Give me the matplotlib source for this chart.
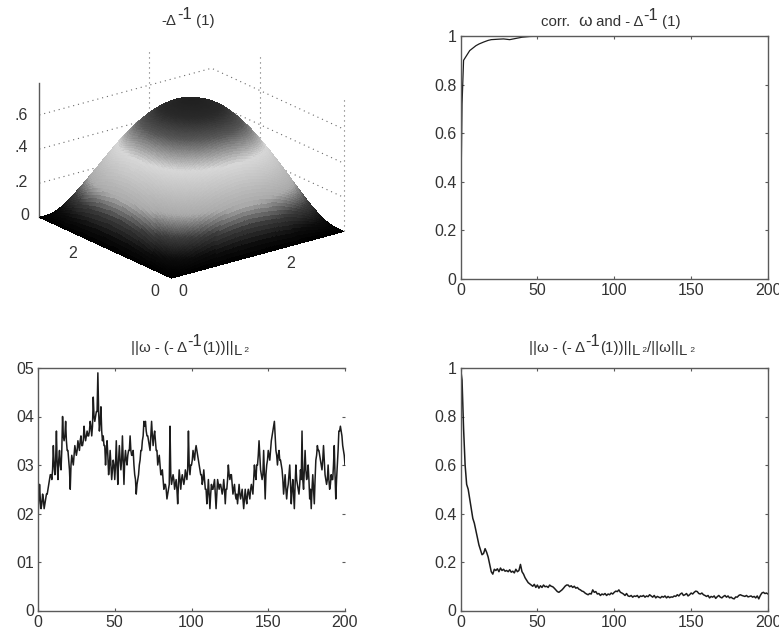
import numpy as np
import matplotlib
matplotlib.use('Agg')
import matplotlib.pyplot as plt
from matplotlib.colors import LinearSegmentedColormap, Normalize

plt.rcParams['font.family'] = ['Liberation Sans', 'DejaVu Sans']

W, H = 779, 638
TEXT = '#333333'
EDGE = '#5a5a5a'

# midline profile of the surface up to its peak, read from the silhouette
profile_half = [0, .025, .049, .073, .097, .120, .143, .166, .188, .210, .231, .252, .272, .291, .310, .328,
                .346, .363, .379, .395, .410, .425, .440, .454, .468, .481, .494, .507, .519, .531, .543, .555,
                .566, .576, .586, .596, .605, .614, .622, .630, .638, .646, .653, .660, .666, .672, .677, .682,
                .687, .692, .696, .700, .704, .707, .710, .713, .716, .718, .720, .722, .724, .725, .726, .7265, .727]
# grey level of the surface against height
shade_z = [0, .06, .154, .26, .37, .46, .53, .60, .68, .74]
shade_grey = [0, 12, 60, 170, 195, 215, 150, 85, 42, 30]

corr_x = [0, 1, 2, 3, 4, 5, 6, 8, 10, 12, 15, 18, 20, 25, 28, 32, 36, 40, 45, 50, 60, 80, 100, 150, 200]
corr_y = [.2, .72, .9, .91, .92, .93, .94, .95, .96, .967, .975, .982, .985, .987, .988, .985, .99, .995,
          .998, .999, 1, 1, .999, 1, 1]

# all in thousandths; err_abs at whole steps, err_abs_mid halfway between them
err_abs = [20, 26, 21, 24, 21, 23, 24, 26, 28, 27,
           34, 28, 37, 27, 33, 29, 40, 35, 39, 33,
           31, 25, 32, 30, 34, 32, 35, 33, 36, 34,
           38, 35, 37, 36, 39, 36, 44, 39, 41, 49,
           37, 42, 35, 34, 30, 35, 28, 33, 27, 31,
           27, 35, 26, 34, 29, 36, 26, 33, 30, 33,
           36, 32, 33, 28, 24, 27, 30, 33, 35, 39,
           39, 36, 35, 33, 39, 34, 37, 33, 30, 32,
           28, 29, 25, 26, 23, 25, 38, 26, 28, 25,
           27, 22, 29, 25, 28, 26, 29, 27, 37, 28,
           30, 33, 31, 34, 32, 30, 28, 26, 29, 25,
           22, 27, 21, 26, 25, 27, 21, 27, 25, 26,
           24, 27, 22, 25, 30, 27, 28, 24, 26, 23,
           22, 26, 23, 25, 21, 25, 22, 25, 23, 26,
           24, 30, 27, 30, 35, 29, 27, 33, 23, 30,
           33, 31, 35, 37, 39, 33, 30, 33, 31, 29,
           24, 28, 23, 26, 30, 22, 27, 21, 30, 26,
           24, 29, 37, 25, 33, 27, 30, 23, 21, 28,
           22, 31, 34, 33, 31, 29, 34, 28, 26, 30,
           25, 28, 27, 34, 23, 30, 37, 38, 36, 33,
           30]
err_abs_mid = [22, 23, 22, 23, 22, 24, 25, 27, 28, 29,
               30, 31, 30, 31, 30, 33, 36, 36, 35, 33,
               29, 30, 31, 32, 33, 33, 34, 35, 34, 35,
               36, 36, 36, 37, 38, 38, 40, 40, 41, 41,
               39, 37, 36, 34, 33, 32, 30, 30, 29, 30,
               30, 30, 31, 31, 31, 31, 31, 31, 32, 33,
               33, 32, 30, 27, 26, 28, 31, 33, 36, 38,
               37, 36, 34, 36, 36, 36, 35, 33, 31, 30,
               28, 27, 26, 25, 24, 26, 28, 27, 27, 26,
               25, 26, 27, 27, 27, 27, 28, 29, 30, 30,
               31, 32, 33, 33, 31, 29, 28, 27, 27, 25,
               24, 24, 24, 25, 26, 24, 24, 26, 26, 25,
               25, 25, 25, 27, 28, 28, 26, 25, 24, 24,
               24, 24, 24, 23, 23, 23, 24, 24, 25, 25,
               27, 28, 30, 32, 32, 28, 28, 28, 28, 31,
               32, 33, 36, 38, 36, 32, 32, 31, 30, 27,
               26, 25, 25, 28, 26, 25, 24, 26, 27, 25,
               26, 27, 27, 29, 29, 28, 27, 25, 25, 25,
               27, 32, 33, 32, 30, 31, 31, 27, 27, 27,
               26, 27, 30, 28, 27, 33, 37, 37, 34, 32]
err_rel = [1000, 950, 750, 600, 520, 500, 460, 420, 380, 360,
           330, 300, 270, 250, 230, 235, 255, 240, 220, 190,
           160, 150, 170, 165, 172, 160, 175, 165, 170, 162,
           165, 160, 168, 158, 162, 155, 170, 160, 165, 190,
           160, 150, 135, 125, 115, 110, 105, 100, 108, 95,
           105, 92, 102, 95, 105, 98, 100, 95, 105, 100,
           98, 92, 85, 78, 75, 80, 85, 92, 100, 105,
           105, 98, 102, 95, 100, 92, 95, 88, 85, 80,
           78, 72, 68, 65, 70, 68, 85, 75, 78, 68,
           70, 62, 68, 65, 70, 62, 68, 65, 72, 68,
           75, 80, 78, 85, 75, 72, 68, 62, 70, 60,
           58, 62, 55, 60, 58, 62, 53, 60, 58, 62,
           55, 60, 57, 65, 60, 55, 62, 52, 58, 55,
           52, 58, 55, 60, 52, 58, 53, 56, 55, 60,
           58, 65, 60, 68, 72, 62, 65, 70, 60, 65,
           72, 68, 75, 80, 78, 70, 68, 72, 65, 62,
           58, 62, 52, 58, 55, 60, 50, 57, 62, 55,
           52, 58, 62, 55, 60, 52, 55, 50, 48, 56,
           55, 62, 65, 62, 60, 58, 62, 56, 58, 60,
           55, 58, 52, 60, 48, 62, 72, 75, 70, 72,
           68]

x_ticks = [0, 50, 100, 150, 200]
frac_ticks = [0, .2, .4, .6, .8, 1]
frac_labels = ['0', '0.2', '0.4', '0.6', '0.8', '1']
abs_ticks = [0, .01, .02, .03, .04, .05]
abs_labels = ['0', '01', '02', '03', '04', '05']
z_ticks = [0, .2, .4, .6]


def px_axes(fig, left, top, right, bottom, **kw):
    return fig.add_axes([left / W, 1 - bottom / H, (right - left) / W, (bottom - top) / H], **kw)


def put_label(fig, x, y, s, size=11.5, ha='center'):
    fig.text(x / W, 1 - y / H, s, fontsize=size, color=TEXT, ha=ha, va='center')


def put_title(fig, cx, y, parts):
    # pieces of differing size on one baseline, centred on cx
    rend = fig.canvas.get_renderer()
    items = []
    total = 0
    for s, size, dy in parts:
        t = fig.text(0, 1 - (y - dy) / H, s, fontsize=size, color=TEXT, ha='left', va='baseline')
        w = t.get_window_extent(rend).width
        items.append((t, w))
        total += w
    x = cx - total / 2
    for t, w in items:
        t.set_x(x / W)
        x += w


def line_panel(fig, box, y, xs, ylim, yticks, ylabels, lw=0.9):
    ax = px_axes(fig, *box)
    ax.plot(xs, y, color='#1c1c1c', lw=lw)
    ax.set_xlim(0, 200)
    ax.set_ylim(*ylim)
    ax.set_xticks(x_ticks)
    ax.set_yticks(yticks)
    ax.set_yticklabels(ylabels)
    ax.tick_params(direction='in', top=True, right=True, length=2.5, width=0.8, color=EDGE,
                   labelsize=11.5, labelcolor=TEXT, pad=3)
    for s in ax.spines.values():
        s.set_color(EDGE)
        s.set_linewidth(1.0)
    return ax


fig = plt.figure(figsize=(W / 100, H / 100), dpi=100, facecolor='white')

# surface panel
profile = np.r_[profile_half, profile_half[-2::-1]]
grid = np.linspace(0, np.pi, len(profile))
xx, yy = np.meshgrid(grid, grid)
zz = np.outer(profile, profile) / profile.max()
zmax = 0.79
cmap = LinearSegmentedColormap.from_list(
    'band', [(z / shade_z[-1], (g / 255, g / 255, g / 255)) for z, g in zip(shade_z, shade_grey)])

S = 400
ax3 = fig.add_axes([(191.5 - .5135 * S) / W, (481 - .5135 * S) / H, S / W, S / H], projection='3d', proj_type='ortho')
ax3.computed_zorder = False
ax3.view_init(elev=20.7, azim=-127.5)
ax3.set_box_aspect((217, 217, 144), zoom=0.823)
ax3.set_xlim(0, np.pi)
ax3.set_ylim(0, np.pi)
ax3.set_zlim(0, zmax)
ax3.set_axis_off()
dots = dict(color='#6a6a6a', lw=0.8, ls=(0, (1, 3.5)), zorder=1)
for z in z_ticks[1:]:
    ax3.plot([0, np.pi, np.pi], [np.pi, np.pi, 0], [z, z, z], **dots)
ax3.plot([2, 2], [np.pi, np.pi], [0, zmax + .02], **dots)
ax3.plot([np.pi, np.pi], [2, 2], [0, zmax + .02], **dots)
ax3.plot([np.pi, np.pi], [0, 0], [0, zmax], **dots)
ax3.plot([0, 0], [np.pi, np.pi], [0, zmax], color=EDGE, lw=1.0, zorder=1)
ax3.plot_surface(xx, yy, zz, cmap=cmap, norm=Normalize(0, shade_z[-1]), rstride=1, cstride=1,
                 linewidth=0, antialiased=False, shade=False, zorder=2)

put_label(fig, 29, 216, '0', ha='right')
put_label(fig, 28, 182, '.2', ha='right')
put_label(fig, 28, 148, '.4', ha='right')
put_label(fig, 28, 115, '.6', ha='right')
put_label(fig, 73, 253, '2')
put_label(fig, 291, 264, '2')
put_label(fig, 155, 292, '0')
put_label(fig, 183, 292, '0')

steps = np.arange(len(err_abs))
half_steps = np.arange(2 * len(err_abs) - 1) / 2
abs_line = np.empty(len(half_steps))
abs_line[::2] = err_abs
abs_line[1::2] = err_abs_mid
ax_corr = line_panel(fig, (460.5, 36, 768, 279), corr_y, corr_x, (0, 1), frac_ticks, frac_labels)
ax_abs = line_panel(fig, (38, 368, 345, 610.5), abs_line / 1000, half_steps, (0, .05), abs_ticks, abs_labels, lw=1.1)
ax_abs.spines['right'].set_visible(False)
ax_rel = line_panel(fig, (460.5, 368, 768, 610.5), np.array(err_rel) / 1000, steps, (0, 1), frac_ticks, frac_labels, lw=1.1)

T = 10.8
SUP = 12
put_title(fig, 188, 25, [('-Δ', T, 0), ('-1', SUP, 6), (' (1)', T, 0)])
put_title(fig, 611, 26, [('corr.  ', T, 0), ('ω', 12.5, 0), (' and - Δ', T, 0), ('-1', SUP, 6), (' (1)', T, 0)])
put_title(fig, 190, 352, [('||ω - (- Δ', T, 0), ('-1', SUP, 6), ('(1))||', T, 0), ('L', T, -3), (' 2', 6, 0)])
put_title(fig, 612, 352, [('||ω - (- Δ', T, 0), ('-1', SUP, 6), ('(1))||', T, 0), ('L', T, -3), (' 2', 6, 0),
                          ('/||ω||', T, 0), ('L', T, -3), (' 2', 6, 0)])

fig.savefig('out.png', dpi=100)
